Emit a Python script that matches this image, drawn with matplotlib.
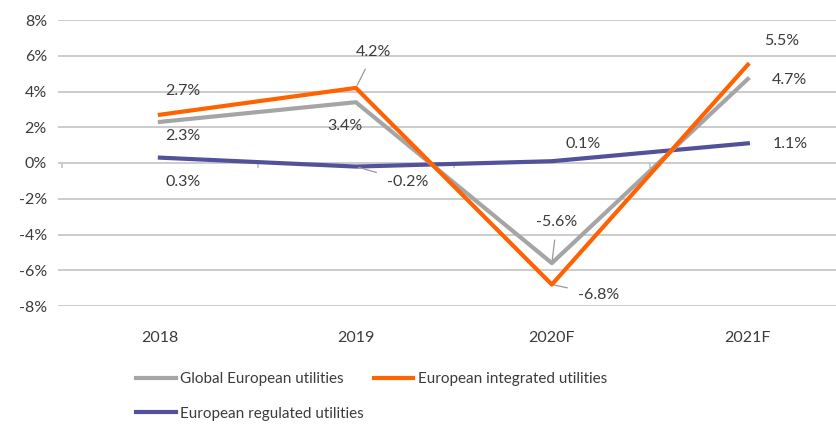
import matplotlib.pyplot as plt
from matplotlib.lines import Line2D

plt.rcParams['font.family'] = ['Lato', 'DejaVu Sans']

years = ['2018', '2019', '2020F', '2021F']
global_eu = [2.3, 3.4, -5.6, 4.7]
integrated = [2.7, 4.2, -6.8, 5.5]
regulated = [0.3, -0.2, 0.1, 1.1]
y_ticks = [-8, -6, -4, -2, 0, 2, 4, 6, 8]

c_gray = '#a5a5a5'
c_orange = '#ff6200'
c_purple = '#525199'
c_text = '#3c3c3c'
c_grid = '#c4c4c4'

fig = plt.figure(figsize=(8.37, 4.25), dpi=100)
ax = fig.add_axes([58 / 837, 1 - 306 / 425, 1 - 58 / 837, 286 / 425])

x = list(range(len(years)))
for yv in y_ticks:
    ax.axhline(yv, color=c_grid, lw=1.2, zorder=0)
# small ticks along the zero line
ax.vlines([-0.5, 0.5, 1.5, 2.5], -0.3, 0, color=c_grid, lw=1.2, zorder=0)

ax.plot(x, global_eu, color=c_gray, lw=3, zorder=3)
ax.plot(x, integrated, color=c_orange, lw=3, zorder=4)
ax.plot(x, regulated, color=c_purple, lw=3, zorder=2)

ax.set_xlim(-0.52, 3.455)
ax.set_ylim(-8, 8)
ax.set_yticks(y_ticks)
ax.set_yticklabels([f'{v}%' for v in y_ticks])
ax.set_xticks(x)
ax.set_xticklabels(years)
ax.tick_params(axis='both', length=0, labelsize=11.5, colors=c_text)
ax.tick_params(axis='x', pad=18)
ax.tick_params(axis='y', pad=8)
for s in ax.spines.values():
    s.set_visible(False)

def lab(xi, yi, dx, dy, leader=False):
    txt = f'{yi}%'
    kw = {}
    if leader:
        kw['arrowprops'] = dict(arrowstyle='-', color='#999999', lw=0.9,
                                shrinkA=6, shrinkB=2)
    ax.annotate(txt, (xi, yi), xytext=(dx, -dy), textcoords='offset pixels',
                ha='center', va='center', fontsize=11.5, color=c_text, **kw)

# 2018
lab(0, integrated[0], 23, -24)
lab(0, global_eu[0], 23, 14)
lab(0, regulated[0], 23, 24)
# 2019
lab(1, integrated[1], 18, -36, leader=True)
lab(1, global_eu[1], -11, 24)
lab(1, regulated[1], 52, 15, leader=True)
# 2020F
lab(2, global_eu[2], 5, -41, leader=True)
lab(2, integrated[2], 47, 10, leader=True)
lab(2, regulated[2], 31, -17)
# 2021F
lab(3, integrated[3], 34, -24)
lab(3, global_eu[3], 42, 1)
lab(3, regulated[3], 42, 1)

handles = [Line2D([], [], color=c_gray, lw=3),
           Line2D([], [], color=c_purple, lw=3),
           Line2D([], [], color=c_orange, lw=3)]
labels = ['Global European utilities', 'European regulated utilities',
          'European integrated utilities']
fig.legend(handles, labels, ncol=2, loc='upper left',
           bbox_to_anchor=(136 / 837, 1 - 372 / 425), frameon=False,
           fontsize=11, labelcolor=c_text, handlelength=2.6,
           handletextpad=0.3, columnspacing=0.63, labelspacing=1.35,
           borderpad=0, borderaxespad=0)

fig.savefig('out.png', dpi=100)
